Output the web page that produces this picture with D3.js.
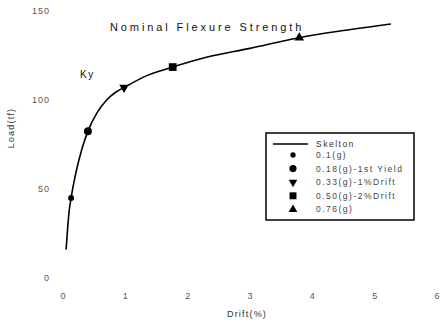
<!DOCTYPE html>
<html>
<head>
<meta charset="utf-8">
<script src="https://cdn.jsdelivr.net/npm/d3@7"></script>
<style>
  body { margin: 0; background: #fff; }
  text { font-family: "Liberation Sans", Arial, sans-serif; }
</style>
</head>
<body>
<svg id="chart"></svg>
<script>
// skeleton curve (drift %, load tf)
const skeleton = [
    [0.05, 16], [0.1, 38], [0.13, 45], [0.2, 58], [0.3, 72], [0.4, 82.5],
    [0.55, 93], [0.7, 100], [0.85, 104.5], [0.98, 107], [1.3, 113],
    [1.76, 118.5], [2.3, 124], [3.0, 129], [3.79, 135], [4.5, 139], [5.26, 142.7]
];
const pointLabels = ["0.1(g)", "0.18(g)-1st Yield", "0.33(g)-1%Drift", "0.50(g)-2%Drift", "0.76(g)"];
const pointDrift = [0.13, 0.4, 0.98, 1.76, 3.79];
const pointLoad = [45, 82.5, 107, 118.5, 135];
const xTicks = [0, 1, 2, 3, 4, 5, 6];
const yTicks = [0, 50, 100, 150];

const width = 442, height = 328;
const margin = {top: 11, right: 4, bottom: 50, left: 63};

const svg = d3.select('#chart')
    .attr('width', width)
    .attr('height', height);

const xscale = d3.scaleLinear().domain([0, 6]).range([margin.left, 437]);
const yscale = d3.scaleLinear().domain([0, 150]).range([278, margin.top]);

// axes (scan has no visible axis lines, just labels)
const xaxis = svg.append('g')
    .attr('transform', `translate(0, 287)`)
    .call(d3.axisBottom(xscale).tickValues(xTicks).tickFormat(d3.format('d')).tickSize(0).tickPadding(6));
const yaxis = svg.append('g')
    .attr('transform', `translate(52, 0)`)
    .call(d3.axisLeft(yscale).tickValues(yTicks).tickFormat(d3.format('d')).tickSize(0).tickPadding(2));
[xaxis, yaxis].forEach(a => {
    a.select('.domain').remove();
    a.selectAll('text').attr('fill', '#555').attr('font-size', '9px')
        .attr('letter-spacing', '1px');
});

// skeleton line
const line = d3.line()
    .x(d => xscale(d[0]))
    .y(d => yscale(d[1]))
    .curve(d3.curveMonotoneX);
svg.append('path')
    .datum(skeleton)
    .attr('fill', 'none')
    .attr('stroke', '#000')
    .attr('stroke-width', 1.6)
    .attr('d', line);

// markers
const symbols = [d3.symbolCircle, d3.symbolCircle, d3.symbolTriangle, d3.symbolSquare, d3.symbolTriangle];
const rotations = [0, 0, 180, 0, 0];
const sizes = [28, 50, 40, 60, 40];
svg.selectAll('path.marker')
    .data(pointLabels)
    .enter()
    .append('path')
    .attr('class', 'marker')
    .attr('d', (d, i) => d3.symbol(symbols[i], sizes[i])())
    .attr('transform', (d, i) => `translate(${xscale(pointDrift[i])}, ${yscale(pointLoad[i])}) rotate(${rotations[i]})`)
    .attr('fill', '#000');

// annotations
svg.append('text')
    .attr('x', 110).attr('y', 31)
    .attr('font-size', '11px')
    .attr('letter-spacing', '2.9px')
    .attr('fill', '#111')
    .text('Nominal Flexure Strength');
svg.append('text')
    .attr('x', 80).attr('y', 78)
    .attr('font-size', '10px')
    .attr('letter-spacing', '1.5px')
    .attr('fill', '#111')
    .text('Ky');

// axis titles
svg.append('text')
    .attr('transform', 'translate(14, 128) rotate(-90)')
    .attr('text-anchor', 'middle')
    .attr('font-size', '9px')
    .attr('letter-spacing', '1.2px')
    .attr('fill', '#333')
    .text('Load(tf)');
svg.append('text')
    .attr('x', 247).attr('y', 317)
    .attr('text-anchor', 'middle')
    .attr('font-size', '9px')
    .attr('letter-spacing', '1.2px')
    .attr('fill', '#333')
    .text('Drift(%)');

// legend
const legend = svg.append('g').attr('transform', 'translate(266, 133)');
legend.append('rect')
    .attr('x', 0).attr('y', 0)
    .attr('width', 148).attr('height', 87)
    .attr('fill', '#fff')
    .attr('stroke', '#000')
    .attr('stroke-width', 1.5);
legend.append('line')
    .attr('x1', 7).attr('x2', 42)
    .attr('y1', 11).attr('y2', 11)
    .attr('stroke', '#000').attr('stroke-width', 1.4);
legend.append('text')
    .attr('x', 50).attr('y', 14)
    .attr('font-size', '8.5px')
    .attr('letter-spacing', '1.5px')
    .attr('fill', '#333')
    .text('Skelton');
pointLabels.forEach((lab, i) => {
    const y = 22 + i * 13.6;
    legend.append('path')
        .attr('d', d3.symbol(symbols[i], sizes[i] * 0.8)())
        .attr('transform', `translate(27, ${y}) rotate(${rotations[i]})`)
        .attr('fill', '#000');
    legend.append('text')
        .attr('x', 50).attr('y', y + 3)
        .attr('font-size', '8.5px')
        .attr('letter-spacing', '1.5px')
        .attr('fill', '#444')
        .text(lab);
});
</script>
</body>
</html>
